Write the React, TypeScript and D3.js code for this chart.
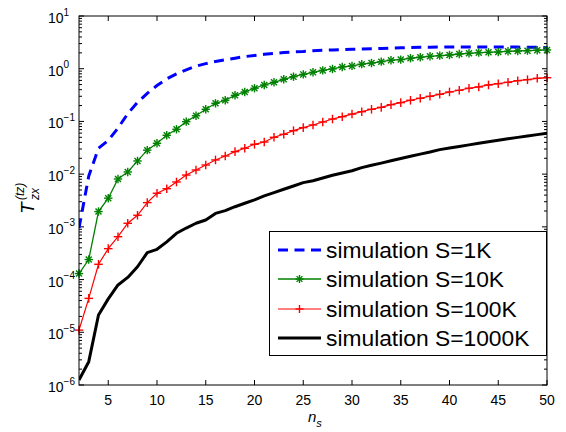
import React from "react";
import * as d3 from "d3";

const ns = [2, 3, 4, 5, 6, 7, 8, 9, 10, 11, 12, 13, 14, 15, 16, 17, 18, 19, 20, 21, 22, 23, 24, 25, 26, 27, 28, 29, 30, 31, 32, 33, 34, 35, 36, 37, 38, 39, 40, 41, 42, 43, 44, 45, 46, 47, 48, 49, 50];

const s1K = [0.00095, 0.0092, 0.031, 0.0435, 0.075, 0.14, 0.23, 0.34, 0.48, 0.64, 0.8, 0.95, 1.12, 1.25, 1.37, 1.48, 1.585, 1.7, 1.78, 1.88, 1.96, 2.02, 2.08, 2.12, 2.19, 2.23, 2.27, 2.31, 2.34, 2.37, 2.4, 2.43, 2.46, 2.49, 2.52, 2.54, 2.56, 2.57, 2.58, 2.58, 2.58, 2.58, 2.58, 2.58, 2.58, 2.57, 2.56, 2.55, 2.5];

const s10K = [1.3e-4, 2.4e-4, 1.95e-3, 3.5e-3, 8.1e-3, 0.011, 0.0178, 0.0285, 0.0385, 0.0546, 0.071, 0.099, 0.128, 0.17, 0.221, 0.252, 0.313, 0.362, 0.426, 0.492, 0.553, 0.63, 0.706, 0.78, 0.855, 0.93, 0.99, 1.08, 1.13, 1.22, 1.28, 1.36, 1.45, 1.49, 1.58, 1.65, 1.72, 1.77, 1.82, 1.9, 1.96, 2.02, 2.05, 2.08, 2.14, 2.17, 2.2, 2.24, 2.27];

const s100K = [1.1e-5, 4.4e-5, 1.95e-4, 3.86e-4, 6.5e-4, 1.17e-3, 1.66e-3, 2.88e-3, 4.34e-3, 5.3e-3, 7.1e-3, 9.6e-3, 0.012, 0.0149, 0.0186, 0.0221, 0.0267, 0.031, 0.0368, 0.0407, 0.05, 0.057, 0.0668, 0.0762, 0.0857, 0.0977, 0.111, 0.123, 0.138, 0.153, 0.17, 0.185, 0.208, 0.227, 0.252, 0.275, 0.3, 0.327, 0.362, 0.39, 0.426, 0.451, 0.492, 0.52, 0.553, 0.593, 0.62, 0.658, 0.676];

const s1000K = [1.24e-6, 2.77e-6, 2.13e-5, 4.3e-5, 7.9e-5, 1.1e-4, 1.75e-4, 3.24e-4, 3.75e-4, 5.2e-4, 7.55e-4, 9.5e-4, 1.17e-3, 1.35e-3, 1.8e-3, 2.03e-3, 2.41e-3, 2.8e-3, 3.24e-3, 3.86e-3, 4.45e-3, 5.16e-3, 5.96e-3, 6.9e-3, 7.5e-3, 8.45e-3, 9.5e-3, 0.0105, 0.0116, 0.0133, 0.0147, 0.0162, 0.0179, 0.0198, 0.0219, 0.024, 0.0263, 0.0292, 0.0313, 0.0335, 0.0359, 0.0385, 0.0412, 0.0439, 0.0468, 0.0498, 0.053, 0.0562, 0.0596];

const xTicks = [5, 10, 15, 20, 25, 30, 35, 40, 45, 50];
const yExps = [-6, -5, -4, -3, -2, -1, 0, 1];
const legendLabels = ["simulation S=1K", "simulation S=10K", "simulation S=100K", "simulation S=1000K"];

const W = 566, H = 432;
const L = 79, R = 547, T = 16, B = 385;
const FONT = "'Liberation Sans', Arial, Helvetica, sans-serif";

function Star({ x, y, r, color }: { x: number; y: number; r: number; color: string }) {
  const d = r * 0.72;
  return (
    <g stroke={color} strokeWidth={1.4}>
      <line x1={x - r} y1={y} x2={x + r} y2={y} />
      <line x1={x} y1={y - r} x2={x} y2={y + r} />
      <line x1={x - d} y1={y - d} x2={x + d} y2={y + d} />
      <line x1={x - d} y1={y + d} x2={x + d} y2={y - d} />
    </g>
  );
}

function Plus({ x, y, r, color }: { x: number; y: number; r: number; color: string }) {
  return (
    <g stroke={color} strokeWidth={1.4}>
      <line x1={x - r} y1={y} x2={x + r} y2={y} />
      <line x1={x} y1={y - r} x2={x} y2={y + r} />
    </g>
  );
}

export default function App() {
  const x = d3.scaleLinear().domain([2, 50]).range([L, R]);
  const y = d3.scaleLog().domain([1e-6, 10]).range([B, T]);
  const line = d3
    .line<number>()
    .x((_, i) => x(ns[i]))
    .y((v) => y(v));

  const minor: number[] = [];
  for (let e = -6; e < 1; e++) {
    for (let k = 2; k <= 9; k++) minor.push(k * Math.pow(10, e));
  }

  const rows = [250, 279, 309, 338];

  return (
    <svg width={W} height={H} style={{ position: "absolute", left: 0, top: 0, background: "#fff" }} fontFamily={FONT}>
      <rect x={0} y={0} width={W} height={H} fill="#fff" />
      <defs>
        <clipPath id="plotclip">
          <rect x={L} y={T} width={R - L} height={B - T} />
        </clipPath>
      </defs>

      {/* ticks */}
      <g stroke="#000" strokeWidth={1}>
        {xTicks.map((t) => (
          <g key={"xt" + t}>
            <line x1={x(t)} x2={x(t)} y1={B} y2={B - 5} />
            <line x1={x(t)} x2={x(t)} y1={T} y2={T + 5} />
          </g>
        ))}
        {yExps.map((e) => (
          <g key={"yt" + e}>
            <line x1={L} x2={L + 5} y1={y(Math.pow(10, e))} y2={y(Math.pow(10, e))} />
            <line x1={R} x2={R - 5} y1={y(Math.pow(10, e))} y2={y(Math.pow(10, e))} />
          </g>
        ))}
        {minor.map((m, i) => (
          <g key={"ym" + i}>
            <line x1={L} x2={L + 3} y1={y(m)} y2={y(m)} />
            <line x1={R} x2={R - 3} y1={y(m)} y2={y(m)} />
          </g>
        ))}
      </g>

      {/* tick labels */}
      <g fontSize={14} fill="#000">
        {xTicks.map((t) => (
          <text key={"xl" + t} x={x(t)} y={B + 20} textAnchor="middle">
            {t}
          </text>
        ))}
        {yExps.map((e) => (
          <text key={"yl" + e} x={48} y={y(Math.pow(10, e)) + 7}>
            10
            <tspan fontSize={10} dy={-7.5}>
              {e < 0 ? "\u2212" + Math.abs(e) : String(e)}
            </tspan>
          </text>
        ))}
      </g>

      {/* axis labels */}
      <text x={308} y={421.5} fontSize={15} fontStyle="italic">
        n
        <tspan fontSize={11} dy={5} fontStyle="italic">s</tspan>
      </text>
      <g transform="translate(34,200) rotate(-90)">
        <text x={-14} y={0} fontSize={19} fontStyle="italic">T</text>
        <text x={0} y={-10.5} fontSize={12} fontStyle="italic">(tz)</text>
        <text x={0} y={4.5} fontSize={12} fontStyle="italic">zx</text>
      </g>

      {/* series */}
      <g clipPath="url(#plotclip)" fill="none">
        <path d={line(s1000K) || ""} stroke="#000" strokeWidth={3} strokeLinejoin="round" />
        <path d={line(s100K) || ""} stroke="#ff0000" strokeWidth={1.2} />
        <path d={line(s10K) || ""} stroke="#008000" strokeWidth={1.3} />
        <path d={line(s1K) || ""} stroke="#0000ff" strokeWidth={3} strokeDasharray="10,6.5" />
      </g>
      <g>
        {s100K.map((v, i) => (
          <Plus key={"p" + i} x={x(ns[i])} y={y(v)} r={4.3} color="#ff0000" />
        ))}
        {s10K.map((v, i) => (
          <Star key={"s" + i} x={x(ns[i])} y={y(v)} r={4.2} color="#008000" />
        ))}
      </g>

      {/* box */}
      <rect x={L} y={T} width={R - L} height={B - T} fill="none" stroke="#000" strokeWidth={1} />

      {/* legend */}
      <rect x={269.5} y={231.5} width={277} height={124} fill="#fff" stroke="#000" strokeWidth={1} />
      <line x1={278} x2={321} y1={rows[0]} y2={rows[0]} stroke="#0000ff" strokeWidth={3} strokeDasharray="10,6.5" />
      <line x1={278} x2={321} y1={rows[1]} y2={rows[1]} stroke="#008000" strokeWidth={1.3} />
      <Star x={299.5} y={rows[1]} r={4} color="#008000" />
      <line x1={278} x2={321} y1={rows[2]} y2={rows[2]} stroke="#ff0000" strokeWidth={1.2} />
      <Plus x={299.5} y={rows[2]} r={4} color="#ff0000" />
      <line x1={278} x2={321} y1={rows[3]} y2={rows[3]} stroke="#000" strokeWidth={3} />
      {legendLabels.map((t, i) => (
        <text key={t} x={326} y={rows[i] + 7.5} fontSize={22.8} fill="#000">
          {t}
        </text>
      ))}
    </svg>
  );
}
